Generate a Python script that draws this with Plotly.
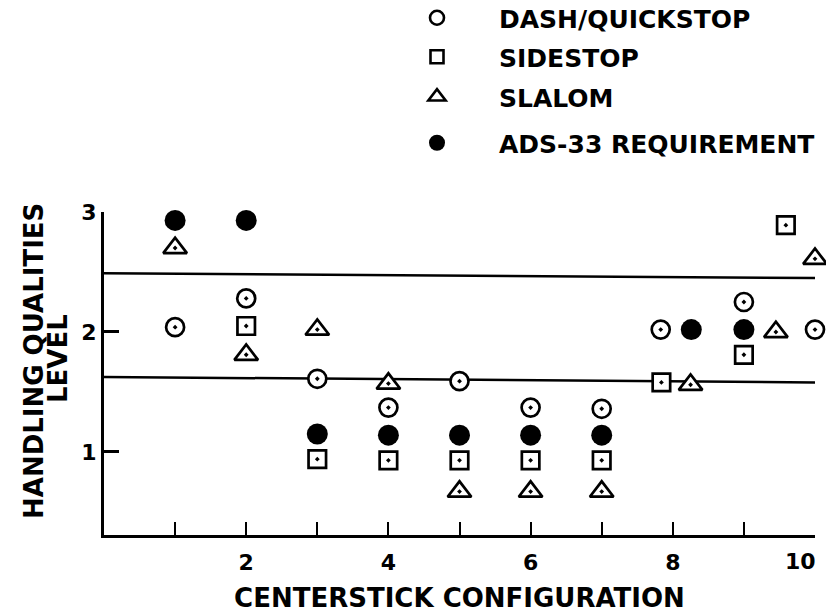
import plotly.graph_objects as go

# ---------------- data ----------------
dash_x = [1, 2, 3, 4, 5, 6, 7, 7.83, 9, 10]
dash_y = [2.04, 2.28, 1.61, 1.37, 1.59, 1.37, 1.36, 2.02, 2.25, 2.02]

sidestop_x = [2, 3, 4, 5, 6, 7, 7.84, 9, 9.59]
sidestop_y = [2.05, 0.94, 0.93, 0.93, 0.93, 0.93, 1.58, 1.81, 2.89]

slalom_x = [1, 2, 3, 4, 5, 6, 7, 8.25, 9.45, 10]
slalom_y = [2.70, 1.81, 2.02, 1.57, 0.67, 0.67, 0.67, 1.56, 2.00, 2.61]

ads33_x = [1, 2, 3, 4, 5, 6, 7, 8.26, 9, 10.02]
ads33_y = [2.93, 2.93, 1.15, 1.14, 1.14, 1.14, 1.14, 2.02, 2.02, 2.89]

boundary_x = [0, 10]
upper_boundary_y = [2.49, 2.45]
lower_boundary_y = [1.625, 1.58]

x_tickvals = [1, 2, 3, 4, 5, 6, 7, 8, 9, 10]
x_ticktext = ["", "2", "", "4", "", "6", "", "8", "", ""]
x_last_tick = 10
x_last_label = "10"
y_tickvals = [1, 2, 3]
y_ticktext = ["1", "2", "3"]

legend_names = ["DASH/QUICKSTOP", "SIDESTOP", "SLALOM", "ADS-33 REQUIREMENT"]

# ---------------- styling ----------------
FONT = "DejaVu Sans"
W, H = 826, 615
ML, MR, MT, MB = 104, 11, 212, 80
PW, PH = W - ML - MR, H - MT - MB

fig = go.Figure()

for by in (upper_boundary_y, lower_boundary_y):
    fig.add_trace(go.Scatter(x=boundary_x, y=by, mode="lines",
                             line=dict(color="black", width=2.5),
                             showlegend=False, hoverinfo="skip"))

open_marker = dict(color="white", line=dict(color="black", width=2.7))

series = [
    (dash_x, dash_y, "circle-dot", 18),
    (sidestop_x, sidestop_y, "square-dot", 17.5),
    (slalom_x, slalom_y, "triangle-up-dot", 20.5),
]
for (sx, sy, sym, size) in series:
    fig.add_trace(go.Scatter(x=sx, y=sy, mode="markers", showlegend=False,
                             cliponaxis=False,
                             marker=dict(symbol=sym, size=size, **open_marker)))
fig.add_trace(go.Scatter(x=ads33_x, y=ads33_y, mode="markers", showlegend=False,
                         cliponaxis=False,
                         marker=dict(symbol="circle", size=21, color="black",
                                     line=dict(width=0))))

# legend entries (plain symbols, as in the reference key)
legend_syms = [
    dict(symbol="circle", size=14, color="white", line=dict(color="black", width=2.6)),
    dict(symbol="square", size=13, color="white", line=dict(color="black", width=2.6)),
    dict(symbol="triangle-up", size=15, color="white", line=dict(color="black", width=2.6)),
    dict(symbol="circle", size=16, color="black", line=dict(width=0)),
]
legend_ids = ["legend", "legend2", "legend3", "legend4"]
legend_rows_px = [18, 57, 97, 143]
for name, msym, lid in zip(legend_names, legend_syms, legend_ids):
    fig.add_trace(go.Scatter(x=[None], y=[None], mode="markers", name=name,
                             marker=msym, legend=lid, showlegend=True))

layout_legends = {}
for lid, ypx in zip(legend_ids, legend_rows_px):
    layout_legends[lid] = dict(
        xref="container", yref="container",
        x=375 / W, y=1 - ypx / H,
        xanchor="left", yanchor="middle",
        font=dict(family=FONT, size=25, color="black", weight="bold"),
        bgcolor="rgba(0,0,0,0)", borderwidth=0, itemwidth=114,
    )

tick_font = dict(family=FONT, size=22, color="black", weight="bold")
title_font = dict(family=FONT, size=26, color="black", weight="bold")

fig.update_layout(
    width=W, height=H,
    margin=dict(l=ML, r=MR, t=MT, b=MB, autoexpand=False),
    paper_bgcolor="white", plot_bgcolor="white",
    font=dict(family=FONT, color="black"),
    xaxis=dict(range=[0, 10], showgrid=False, zeroline=False,
               showline=True, linecolor="black", linewidth=3,
               ticks="inside", ticklen=13, tickwidth=2, tickcolor="black",
               tickvals=x_tickvals, ticktext=x_ticktext, automargin=False,
               ticklabelstandoff=6,
               tickfont=tick_font,
               title=dict(text="CENTERSTICK CONFIGURATION", standoff=15,
                          font=title_font)),
    yaxis=dict(range=[0.308, 3], showgrid=False, zeroline=False,
               showline=True, linecolor="black", linewidth=3,
               ticks="inside", ticklen=15, tickwidth=2.5, tickcolor="black",
               tickvals=y_tickvals, ticktext=y_ticktext, automargin=False,
               tickfont=tick_font),
    annotations=[
        # last x tick label sits flush against the right edge, as in the reference
        dict(text=x_last_label, xref="x", yref="paper", x=x_last_tick, y=0,
             xanchor="right", yanchor="middle", xshift=3, yshift=-26,
             showarrow=False, font=tick_font),
        dict(text="HANDLING QUALITIES", xref="paper", yref="paper",
             x=(34 - ML) / PW, y=(H - MB - 361) / PH,
             textangle=-90, showarrow=False, xanchor="center", yanchor="middle",
             font=title_font),
        dict(text="LEVEL", xref="paper", yref="paper",
             x=(58 - ML) / PW, y=(H - MB - 358) / PH,
             textangle=-90, showarrow=False, xanchor="center", yanchor="middle",
             font=title_font),
    ],
    **layout_legends,
)

# the page's default 8px body margin would push the 826x615 figure off the window
fig.write_html("out.html",
               config={"displayModeBar": False},
               post_script="document.body.style.margin='0';"
                           "document.body.style.overflow='hidden';")
